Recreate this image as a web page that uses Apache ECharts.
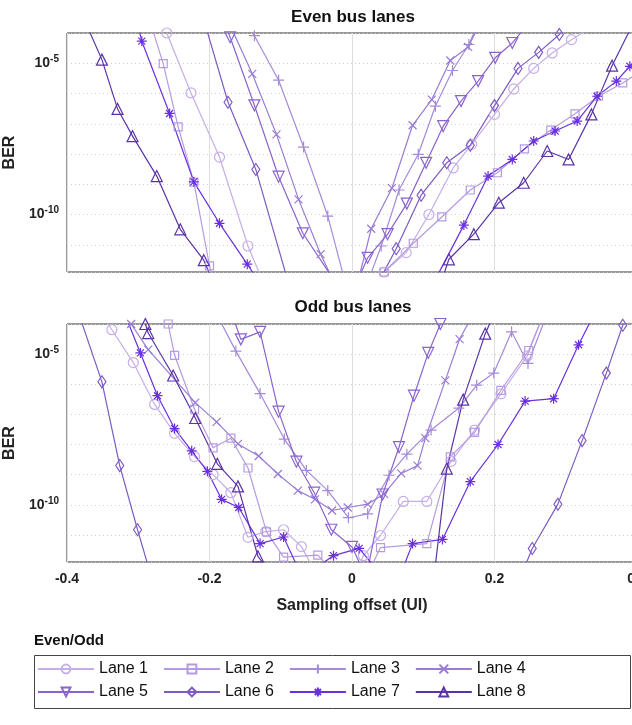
<!DOCTYPE html>
<html>
<head>
<meta charset="utf-8">
<title>BER vs sampling offset</title>
<style>
	html, body { margin: 0; padding: 0; background: #fff; }
	#chart { width: 632px; height: 725px; }
</style>
</head>
<body>
<div id="chart"></div>
<script src="https://cdn.jsdelivr.net/npm/echarts@6/dist/echarts.min.js"></script>
<script>
// values are [sampling offset (UI), log10(BER)]
const LANES = ['Lane 1', 'Lane 2', 'Lane 3', 'Lane 4', 'Lane 5', 'Lane 6', 'Lane 7', 'Lane 8'];
const Y_TICK_LABELS = [-5, -10];
const THRESHOLD = -9;

const EVEN_L1 = [[-0.26,-4.0],[-0.226,-5.98],[-0.186,-8.10],[-0.146,-11.04],[-0.12,-12.5],[0.02,-13],[0.045,-11.9],[0.076,-11.26],[0.108,-10.0],[0.142,-8.46],[0.168,-7.68],[0.2,-6.69],[0.227,-5.85],[0.255,-5.17],[0.281,-4.66],[0.308,-4.22],[0.33,-3.9]];
const EVEN_L2 = [[-0.285,-3.5],[-0.265,-5.01],[-0.244,-7.10],[-0.222,-8.93],[-0.2,-11.7],[-0.19,-12.5],[0.03,-13],[0.045,-11.9],[0.086,-10.95],[0.126,-10.08],[0.166,-9.19],[0.204,-8.62],[0.242,-7.83],[0.279,-7.21],[0.313,-6.67],[0.346,-6.09],[0.38,-5.65],[0.41,-5.2]];
const EVEN_L3 = [[-0.145,-3.8],[-0.137,-4.09],[-0.103,-5.56],[-0.068,-7.77],[-0.034,-10.05],[-0.01,-12.2],[0.01,-13],[0.041,-11.04],[0.066,-9.19],[0.093,-8.01],[0.117,-6.42],[0.141,-5.24],[0.164,-4.38],[0.175,-3.8]];
const EVEN_L4 = [[-0.17,-3.8],[-0.14,-5.35],[-0.106,-7.35],[-0.075,-9.5],[-0.044,-11.31],[-0.02,-12.5],[0.0,-13],[0.027,-10.47],[0.056,-9.13],[0.085,-7.05],[0.112,-6.2],[0.138,-4.91],[0.163,-4.46],[0.175,-3.9]];
const EVEN_L5 = [[-0.175,-3.9],[-0.171,-4.14],[-0.137,-6.39],[-0.103,-8.75],[-0.069,-10.62],[-0.03,-12.0],[0.0,-12.6],[0.022,-11.43],[0.05,-10.65],[0.077,-9.64],[0.104,-8.29],[0.128,-7.08],[0.153,-6.25],[0.177,-5.59],[0.201,-4.82],[0.225,-4.33],[0.24,-3.9]];
const EVEN_L6 = [[-0.205,-3.8],[-0.174,-6.29],[-0.135,-8.51],[-0.09,-12.2],[0.02,-13],[0.062,-11.13],[0.097,-9.36],[0.133,-8.29],[0.166,-7.71],[0.2,-6.4],[0.233,-5.17],[0.262,-4.64],[0.291,-4.05],[0.3,-3.8]];
const EVEN_L7 = [[-0.30,-3.8],[-0.295,-4.27],[-0.256,-6.66],[-0.222,-8.92],[-0.186,-10.29],[-0.147,-11.64],[-0.12,-12.6],[0.11,-12.6],[0.122,-11.92],[0.157,-10.35],[0.191,-8.73],[0.225,-8.18],[0.255,-7.57],[0.285,-7.24],[0.316,-6.91],[0.344,-6.09],[0.371,-5.59],[0.39,-5.1],[0.41,-4.6]];
const EVEN_L8 = [[-0.375,-3.6],[-0.351,-4.88],[-0.329,-6.51],[-0.308,-7.41],[-0.274,-8.73],[-0.241,-10.49],[-0.208,-11.51],[-0.19,-12.5],[0.12,-12.6],[0.136,-11.48],[0.171,-10.65],[0.206,-9.61],[0.241,-8.95],[0.274,-7.9],[0.304,-8.18],[0.336,-6.69],[0.365,-5.08],[0.39,-3.9]];

const ODD_L1 = [[-0.345,-3.9],[-0.337,-4.19],[-0.307,-5.28],[-0.277,-6.67],[-0.249,-7.63],[-0.221,-8.4],[-0.195,-9.0],[-0.17,-9.6],[-0.146,-11.08],[-0.121,-10.89],[-0.096,-10.83],[-0.071,-11.39],[-0.05,-12.3],[0.0,-12.5],[0.016,-11.69],[0.04,-11.02],[0.072,-9.89],[0.105,-9.89],[0.139,-8.56],[0.172,-7.52],[0.209,-6.32],[0.246,-5.06],[0.265,-3.9]];
const ODD_L2 = [[-0.258,-4.0],[-0.249,-5.04],[-0.221,-6.83],[-0.195,-8.11],[-0.17,-7.79],[-0.146,-8.78],[-0.12,-10.9],[-0.096,-11.74],[-0.048,-11.67],[-0.02,-12.4],[0.02,-12.4],[0.04,-11.42],[0.105,-11.29],[0.138,-8.41],[0.172,-7.6],[0.209,-6.2],[0.248,-4.88],[0.265,-3.9]];
const ODD_L3 = [[-0.185,-3.9],[-0.163,-4.9],[-0.129,-6.31],[-0.095,-7.82],[-0.064,-8.86],[-0.034,-9.53],[-0.005,-10.43],[0.022,-10.3],[0.052,-9.02],[0.077,-8.32],[0.111,-7.52],[0.15,-6.79],[0.175,-6.03],[0.199,-5.63],[0.224,-4.26],[0.247,-5.31],[0.27,-3.9]];
const ODD_L4 = [[-0.31,-4.0],[-0.286,-4.85],[-0.22,-6.61],[-0.19,-7.25],[-0.16,-7.98],[-0.131,-8.38],[-0.104,-8.98],[-0.076,-9.53],[-0.052,-9.82],[-0.028,-10.19],[-0.006,-10.09],[0.022,-9.98],[0.045,-9.64],[0.069,-8.96],[0.092,-8.7],[0.103,-7.79],[0.131,-5.87],[0.151,-4.5],[0.165,-3.9]];
const ODD_L5 = [[-0.165,-3.9],[-0.156,-4.51],[-0.129,-4.26],[-0.103,-6.91],[-0.078,-8.57],[-0.053,-9.6],[-0.029,-10.83],[0.0,-11.4],[0.02,-12.4],[0.043,-9.66],[0.066,-8.09],[0.087,-6.38],[0.107,-4.96],[0.124,-4.0],[0.13,-3.7]];
const ODD_L6 = [[-0.38,-3.9],[-0.351,-5.92],[-0.326,-8.7],[-0.301,-10.83],[-0.284,-12.2],[0.24,-12.2],[0.253,-11.45],[0.289,-9.98],[0.323,-7.87],[0.357,-5.63],[0.38,-4.04],[0.39,-3.5]];
const ODD_L7 = [[-0.315,-3.9],[-0.297,-4.96],[-0.273,-6.38],[-0.249,-7.47],[-0.225,-8.21],[-0.203,-8.89],[-0.183,-9.82],[-0.159,-10.09],[-0.129,-11.29],[-0.096,-11.07],[-0.07,-12.4],[-0.026,-11.69],[0.01,-11.45],[0.04,-12.3],[0.07,-12.2],[0.085,-11.29],[0.127,-11.15],[0.166,-9.23],[0.205,-8.0],[0.243,-6.56],[0.283,-6.48],[0.318,-4.69],[0.335,-3.9]];
const ODD_L8 = [[-0.29,-4.0],[-0.286,-4.3],[-0.251,-5.71],[-0.22,-7.12],[-0.189,-8.64],[-0.16,-9.39],[-0.132,-11.71],[-0.11,-12.4],[0.115,-12.4],[0.133,-8.8],[0.156,-6.51],[0.187,-4.32],[0.195,-3.9]];

const EVEN = [EVEN_L1, EVEN_L2, EVEN_L3, EVEN_L4, EVEN_L5, EVEN_L6, EVEN_L7, EVEN_L8];
const ODD = [ODD_L1, ODD_L2, ODD_L3, ODD_L4, ODD_L5, ODD_L6, ODD_L7, ODD_L8];

const COLORS = ['#c6aee6', '#b59be0', '#a58ad9', '#987bd3', '#8a63cf', '#7d5ac4', '#6a30e0', '#5b33a6'];
const SYMBOLS = [
	{ symbol: 'circle', size: 10 },
	{ symbol: 'rect', size: 8 },
	{ symbol: 'path://M5,0L5,10M0,5L10,5', size: 11 },
	{ symbol: 'path://M0,0L10,10M10,0L0,10', size: 8 },
	{ symbol: 'triangle', size: 11, rotate: 180 },
	{ symbol: 'diamond', size: [8, 12] },
	{ symbol: 'path://M5,0L5,10M0,5L10,5M1.5,1.5L8.5,8.5M8.5,1.5L1.5,8.5', size: 10 },
	{ symbol: 'triangle', size: 11 }
];

const Y_MIN = Math.pow(10, -11.9);
const Y_MAX = 1e-4;

function toBer(list) {
	return list.map(p => [p[0], Math.pow(10, p[1])]);
}

// reference lines: light grid at labelled decades and the dark threshold
const REF_LINES = {
	symbol: 'none',
	silent: true,
	label: { show: false },
	data: [
		{ yAxis: Math.pow(10, Y_TICK_LABELS[0]), lineStyle: { color: '#d8d8d8', type: 'solid', width: 1 } },
		{ yAxis: Math.pow(10, Y_TICK_LABELS[1]), lineStyle: { color: '#d8d8d8', type: 'solid', width: 1 } },
		{ yAxis: Math.pow(10, THRESHOLD), lineStyle: { color: '#555', type: 'solid', width: 2 } }
	]
};

function laneSeries(data, i, gridIndex) {
	const s = {
		name: LANES[i],
		type: 'line',
		xAxisIndex: gridIndex,
		yAxisIndex: gridIndex,
		data: toBer(data),
		symbol: SYMBOLS[i].symbol,
		symbolSize: SYMBOLS[i].size,
		symbolRotate: SYMBOLS[i].rotate || 0,
		showAllSymbol: true,
		clip: true,
		lineStyle: { color: COLORS[i], width: 1.2 },
		itemStyle: { color: 'rgba(255,255,255,0)', borderColor: COLORS[i], borderWidth: 1.2 },
		emphasis: { disabled: true },
		z: 3
	};
	if (i === 0) s.markLine = REF_LINES;
	return s;
}

function yAxis(gridIndex) {
	return {
		type: 'log',
		gridIndex: gridIndex,
		min: Y_MIN,
		max: Y_MAX,
		logBase: 10,
		splitNumber: 8,
		name: 'BER',
		nameLocation: 'middle',
		nameGap: 44,
		nameTextStyle: { fontSize: 16, fontWeight: 'bold', color: '#222' },
		axisLine: { show: false },
		axisTick: { show: false },
		axisLabel: {
			color: '#222',
			formatter: function (v) {
				const e = Math.round(Math.log10(v));
				if (Y_TICK_LABELS.indexOf(e) < 0) return '';
				return '{b|10}{s|' + e + '}';
			},
			rich: {
				b: { fontSize: 14, fontWeight: 'bold', color: '#222' },
				s: { fontSize: 10, fontWeight: 'bold', color: '#222', verticalAlign: 'top', padding: [0, 0, 8, 0] }
			}
		},
		splitLine: { show: true, lineStyle: { color: '#d0d0d0', type: [1, 3], width: 1 } }
	};
}

function xAxis(gridIndex, showLabels) {
	return {
		type: 'value',
		gridIndex: gridIndex,
		min: -0.4,
		max: 0.4,
		interval: 0.2,
		axisLine: { show: false },
		axisTick: { show: false },
		axisLabel: {
			show: showLabels,
			fontSize: 14,
			fontWeight: 'bold',
			color: '#222',
			margin: 10,
			formatter: v => (Math.abs(v) < 1e-9 ? '0' : String(Math.round(v * 10) / 10))
		},
		name: showLabels ? 'Sampling offset (UI)' : '',
		nameLocation: 'middle',
		nameGap: 36,
		nameTextStyle: { fontSize: 16, fontWeight: 'bold', color: '#222' },
		splitLine: { show: true, lineStyle: { color: '#dedede', width: 1 } }
	};
}

const series = [];
EVEN.forEach((d, i) => series.push(laneSeries(d, i, 0)));
ODD.forEach((d, i) => series.push(laneSeries(d, i, 1)));

const legendCommon = {
	left: 37,
	itemWidth: 56,
	itemHeight: 11,
	itemGap: 15,
	padding: 0,
	textStyle: { fontSize: 16, color: '#111' },
	selectedMode: false
};

const option = {
	animation: false,
	textStyle: { fontFamily: 'Liberation Sans, Arial, sans-serif' },
	title: [
		{ text: 'Even bus lanes', left: 348, top: 4, textAlign: 'center', textStyle: { fontSize: 17, fontWeight: 'bold', color: '#111' } },
		{ text: 'Odd bus lanes', left: 348, top: 294, textAlign: 'center', textStyle: { fontSize: 17, fontWeight: 'bold', color: '#111' } },
		{ text: 'Even/Odd', left: 29, top: 628, textStyle: { fontSize: 15, fontWeight: 'bold', color: '#111' } }
	],
	grid: [
		{ left: 67, right: -5, top: 33, height: 239, outerBoundsMode: 'none', containLabel: false, show: true, borderColor: '#333', borderWidth: 1 },
		{ left: 67, right: -5, top: 324, height: 238, outerBoundsMode: 'none', containLabel: false, show: true, borderColor: '#333', borderWidth: 1 }
	],
	xAxis: [xAxis(0, false), xAxis(1, true)],
	yAxis: [yAxis(0), yAxis(1)],
	legend: [
		Object.assign({ top: 661, data: LANES.slice(0, 4) }, legendCommon),
		Object.assign({ top: 684, data: LANES.slice(4) }, legendCommon)
	],
	graphic: [{
		type: 'rect',
		left: 32,
		top: 653,
		shape: { width: 596, height: 53 },
		style: { fill: 'none', stroke: '#444', lineWidth: 1 }
	}],
	series: series
};

const chart = echarts.init(document.getElementById('chart'));
chart.setOption(option);
</script>
</body>
</html>
